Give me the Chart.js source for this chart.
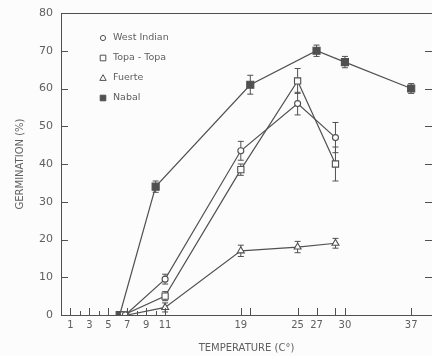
<!DOCTYPE html>
<html>
<head>
<meta charset="utf-8">
<script src="https://cdn.jsdelivr.net/npm/chart.js@4/dist/chart.umd.min.js"></script>
<style>
  html, body { margin: 0; padding: 0; background: #fdfcfd; overflow: hidden; }
  canvas { display: block; }
</style>
</head>
<body>
<canvas id="c" width="432" height="356"></canvas>
<script>
// ---- data ----
const seriesNames = ['West Indian', 'Topa - Topa', 'Fuerte', 'Nabal'];

const tempWestIndian = [6.8, 11, 19, 25, 29];
const westIndian     = [0, 9.5, 43.5, 56, 47];
const westIndianErr  = [0, 1.3, 2.5, 3, 4];

const tempTopa = [6.6, 11, 19, 25, 29];
const topa     = [0, 5, 38.5, 62, 40];
const topaErr  = [0, 1.2, 1.5, 3.3, 4.5];

const tempFuerte = [7, 11, 19, 25, 29];
const fuerte     = [0, 2, 17, 18, 19];
const fuerteErr  = [0, 1.2, 1.5, 1.5, 1.3];

const tempNabal = [6.2, 10, 20, 27, 30, 37];
const nabal     = [0, 34, 61, 70, 67, 60];
const nabalErr  = [0, 1.5, 2.5, 1.5, 1.5, 1.3];

const xTickValues = [1, 2, 3, 4, 5, 6, 7, 8, 9, 10, 11, 19, 20, 25, 27, 29, 30, 37];
const xTickLabels = [1, 3, 5, 7, 9, 11, 19, 25, 27, 30, 37];
const xMinorTicks = [2, 4, 6, 8, 10];
const yTickValues = [0, 10, 20, 30, 40, 50, 60, 70, 80];

// ---- styling ----
const INK = '#505050';
const TXT = '#606060';
const FONT = '"DejaVu Sans", sans-serif';

function pts(xs, ys) { return xs.map((x, i) => ({ x: x, y: ys[i] })); }

const errs = [westIndianErr, topaErr, fuerteErr, nabalErr];

const datasets = [
  { label: seriesNames[0], data: pts(tempWestIndian, westIndian), pointStyle: 'circle', pointRadius: 3,
    backgroundColor: '#fdfcfd', pointBackgroundColor: '#fdfcfd' },
  { label: seriesNames[1], data: pts(tempTopa, topa), pointStyle: 'rect', pointRadius: 4.4,
    backgroundColor: '#fdfcfd', pointBackgroundColor: '#fdfcfd' },
  { label: seriesNames[2], data: pts(tempFuerte, fuerte), pointStyle: 'triangle', pointRadius: 4,
    backgroundColor: '#fdfcfd', pointBackgroundColor: '#fdfcfd' },
  { label: seriesNames[3], data: pts(tempNabal, nabal), pointStyle: 'rect', pointRadius: 5,
    backgroundColor: INK, pointBackgroundColor: INK }
].map(d => Object.assign({
  borderColor: INK, pointBorderColor: INK, borderWidth: 1.2, pointBorderWidth: 1.1,
  tension: 0, fill: false
}, d));

const errorBarPlugin = {
  id: 'errorBars',
  beforeDatasetsDraw(chart) {
    const ctx = chart.ctx, xs = chart.scales.x, ys = chart.scales.y;
    ctx.save();
    ctx.strokeStyle = INK; ctx.lineWidth = 1;
    chart.data.datasets.forEach((ds, di) => {
      ds.data.forEach((p, i) => {
        const e = errs[di][i];
        if (!e) return;
        const px = xs.getPixelForValue(p.x);
        const y1 = ys.getPixelForValue(p.y + e), y2 = ys.getPixelForValue(p.y - e);
        ctx.beginPath();
        ctx.moveTo(px, y1); ctx.lineTo(px, y2);
        ctx.moveTo(px - 3, y1); ctx.lineTo(px + 3, y1);
        ctx.moveTo(px - 3, y2); ctx.lineTo(px + 3, y2);
        ctx.stroke();
      });
    });
    ctx.restore();
  }
};

function drawMarker(ctx, style, x, y, filled) {
  ctx.beginPath();
  if (style === 'circle') ctx.arc(x, y, 2.6, 0, Math.PI * 2);
  else if (style === 'rect') ctx.rect(x - 2.8, y - 2.8, 5.6, 5.6);
  else if (style === 'triangle') { ctx.moveTo(x, y - 3.3); ctx.lineTo(x + 3.2, y + 2.4); ctx.lineTo(x - 3.2, y + 2.4); ctx.closePath(); }
  if (filled) { ctx.fillStyle = INK; ctx.fill(); }
  ctx.stroke();
}

const framePlugin = {
  id: 'frame',
  afterDraw(chart) {
    const ctx = chart.ctx, a = chart.chartArea, xs = chart.scales.x, ys = chart.scales.y;
    ctx.save();
    ctx.strokeStyle = INK; ctx.lineWidth = 1;
    // top frame line
    ctx.beginPath(); ctx.moveTo(a.left, a.top + 0.5); ctx.lineTo(a.right, a.top + 0.5); ctx.stroke();
    // inward x ticks
    ctx.beginPath();
    xTickValues.forEach(v => {
      const px = Math.round(xs.getPixelForValue(v)) + 0.5;
      const len = xMinorTicks.includes(v) ? 4 : 7;
      ctx.moveTo(px, a.bottom); ctx.lineTo(px, a.bottom - len);
    });
    // inward y ticks, left and right
    yTickValues.forEach(v => {
      const py = Math.round(ys.getPixelForValue(v)) + 0.5;
      ctx.moveTo(a.left, py); ctx.lineTo(a.left + 7, py);
      ctx.moveTo(a.right, py); ctx.lineTo(a.right - 7, py);
    });
    ctx.stroke();
    // legend inside plot
    const lx = 103, tx = 113, ly = [38, 58, 78, 98];
    ctx.font = '9.5px ' + FONT;
    ctx.textBaseline = 'middle'; ctx.textAlign = 'left';
    chart.data.datasets.forEach((ds, i) => {
      ctx.strokeStyle = INK; ctx.lineWidth = 1;
      drawMarker(ctx, ds.pointStyle, lx, ly[i], i === 3);
      ctx.fillStyle = TXT;
      ctx.fillText(ds.label, tx, ly[i]);
    });
    ctx.restore();
  }
};

new Chart(document.getElementById('c'), {
  type: 'line',
  data: { datasets: datasets },
  options: {
    responsive: false,
    animation: false,
    layout: { autoPadding: false, padding: { top: 13, right: 0, left: 0, bottom: 0 } },
    plugins: { legend: { display: false }, tooltip: { enabled: false } },
    scales: {
      x: {
        type: 'linear', min: 0, max: 39.2,
        afterBuildTicks: s => { s.ticks = xTickValues.map(v => ({ value: v })); },
        afterFit: s => { s.height = 41; s.paddingLeft = 0; s.paddingRight = 0; },
        ticks: {
          autoSkip: false, maxRotation: 0, padding: 4, color: TXT,
          font: { family: FONT, size: 10 },
          callback: v => xTickLabels.includes(v) ? String(v) : ''
        },
        grid: { display: false, drawTicks: false, tickLength: 0 },
        border: { display: true, color: INK, width: 1 },
        title: { display: true, text: 'TEMPERATURE (C°)', color: TXT,
                 font: { family: FONT, size: 10 }, padding: { top: 0, bottom: 2 } }
      },
      y: {
        min: 0, max: 80,
        afterBuildTicks: s => { s.ticks = yTickValues.map(v => ({ value: v })); },
        afterFit: s => { s.width = 61; s.paddingTop = 0; s.paddingBottom = 0; },
        ticks: { padding: 8, color: TXT, font: { family: FONT, size: 11 } },
        grid: { display: false, drawTicks: false, tickLength: 0 },
        border: { display: true, color: INK, width: 1 },
        title: { display: true, text: 'GERMINATION (%)', color: TXT,
                 font: { family: FONT, size: 10 }, padding: { top: 14, bottom: 0 } }
      }
    }
  },
  plugins: [errorBarPlugin, framePlugin]
});
</script>
</body>
</html>
